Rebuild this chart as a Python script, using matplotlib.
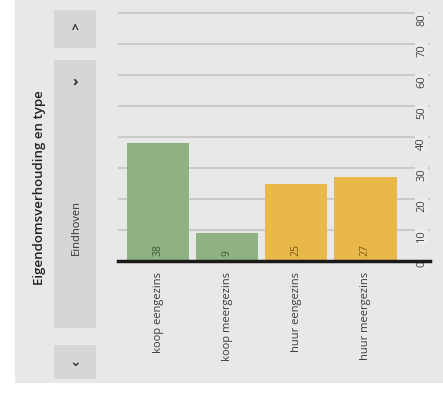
import matplotlib
matplotlib.use('Agg')
import matplotlib.pyplot as plt
from matplotlib.patches import Rectangle

categories = ['koop eengezins', 'koop meergezins', 'huur eengezins', 'huur meergezins']
values = [38, 9, 25, 27]
colors = ['#8fb283', '#8fb283', '#e9b84a', '#e9b84a']
label_colors = ['#3d5a36', '#3d5a36', '#7a5a14', '#7a5a14']
ticks = [0, 10, 20, 30, 40, 50, 60, 70, 80]
title = 'Eigendomsverhouding en type'
place = 'Eindhoven'

plt.rcParams['font.family'] = ['Open Sans', 'DejaVu Sans']

W, H = 443, 394
fig = plt.figure(figsize=(W / 100, H / 100), dpi=100)
fig.patch.set_facecolor('white')

def px(x0, y0, x1, y1):
    # pixel box (top-left origin) -> figure fraction rect
    return (x0 / W, 1 - y1 / H, (x1 - x0) / W, (y1 - y0) / H)

def box(x0, y0, x1, y1, color):
    l, b, w, h = px(x0, y0, x1, y1)
    fig.add_artist(Rectangle((l, b), w, h, transform=fig.transFigure,
                             facecolor=color, edgecolor='none', zorder=0))

# panel and buttons
box(15, 0, 443, 383, '#e8e8e8')
box(54, 10, 96, 48, '#d6d6d6')
box(54, 60, 96, 328, '#d6d6d6')
box(54, 345, 96, 379, '#d6d6d6')

fig.text(40 / W, 1 - 188 / H, title, rotation=90, ha='center', va='center',
         fontsize=9.5, fontweight='semibold', color='#222222')
fig.text(76 / W, 1 - 228 / H, place, rotation=90, ha='center', va='center',
         fontsize=8, color='#333333')
fig.text(75 / W, 1 - 29 / H, '^', ha='center', va='center', fontsize=9,
         fontweight='bold', color='#333333')
fig.text(75 / W, 1 - 82 / H, '›', ha='center', va='center',
         fontsize=11, fontweight='bold', color='#333333')
fig.text(75 / W, 1 - 362 / H, '⌄', ha='center', va='center', fontsize=10,
         fontweight='bold', color='#333333', family=['DejaVu Sans'])

# chart
ax = fig.add_axes(px(118, 5, 430, 261))
ax.set_facecolor('none')
idx = list(range(len(categories)))
ax.bar(idx, values, width=0.91, color=colors, zorder=2)
ax.set_xlim(-0.58, 3.94)
ax.set_ylim(0, 82.6)
for t in ticks[1:]:
    ax.axhline(t, color='#c4c4c4', linewidth=1.2, zorder=1)
ax.axhline(0, color='#1a1a1a', linewidth=2.5, zorder=3, clip_on=False)

for i, v in enumerate(values):
    ax.text(i, 1.5, str(v), rotation=90, ha='center', va='bottom',
            fontsize=7.5, color=label_colors[i], zorder=4)
    ax.text(i, -3.5, categories[i], rotation=90, ha='center', va='top',
            fontsize=8, color='#3a3a3a')

ax.set_xticks([])
ax.set_yticks(ticks)
ax.yaxis.tick_right()
ax.tick_params(axis='y', length=0, pad=-6, labelsize=8, labelcolor='#444444',
               labelrotation=90)
for lab in ax.get_yticklabels():
    lab.set_va('top')
    lab.set_ha('center')
    lab.set_bbox(dict(facecolor='#ececec', edgecolor='none', pad=1))
for s in ax.spines.values():
    s.set_visible(False)

fig.savefig('out.png', dpi=100, facecolor=fig.get_facecolor())
